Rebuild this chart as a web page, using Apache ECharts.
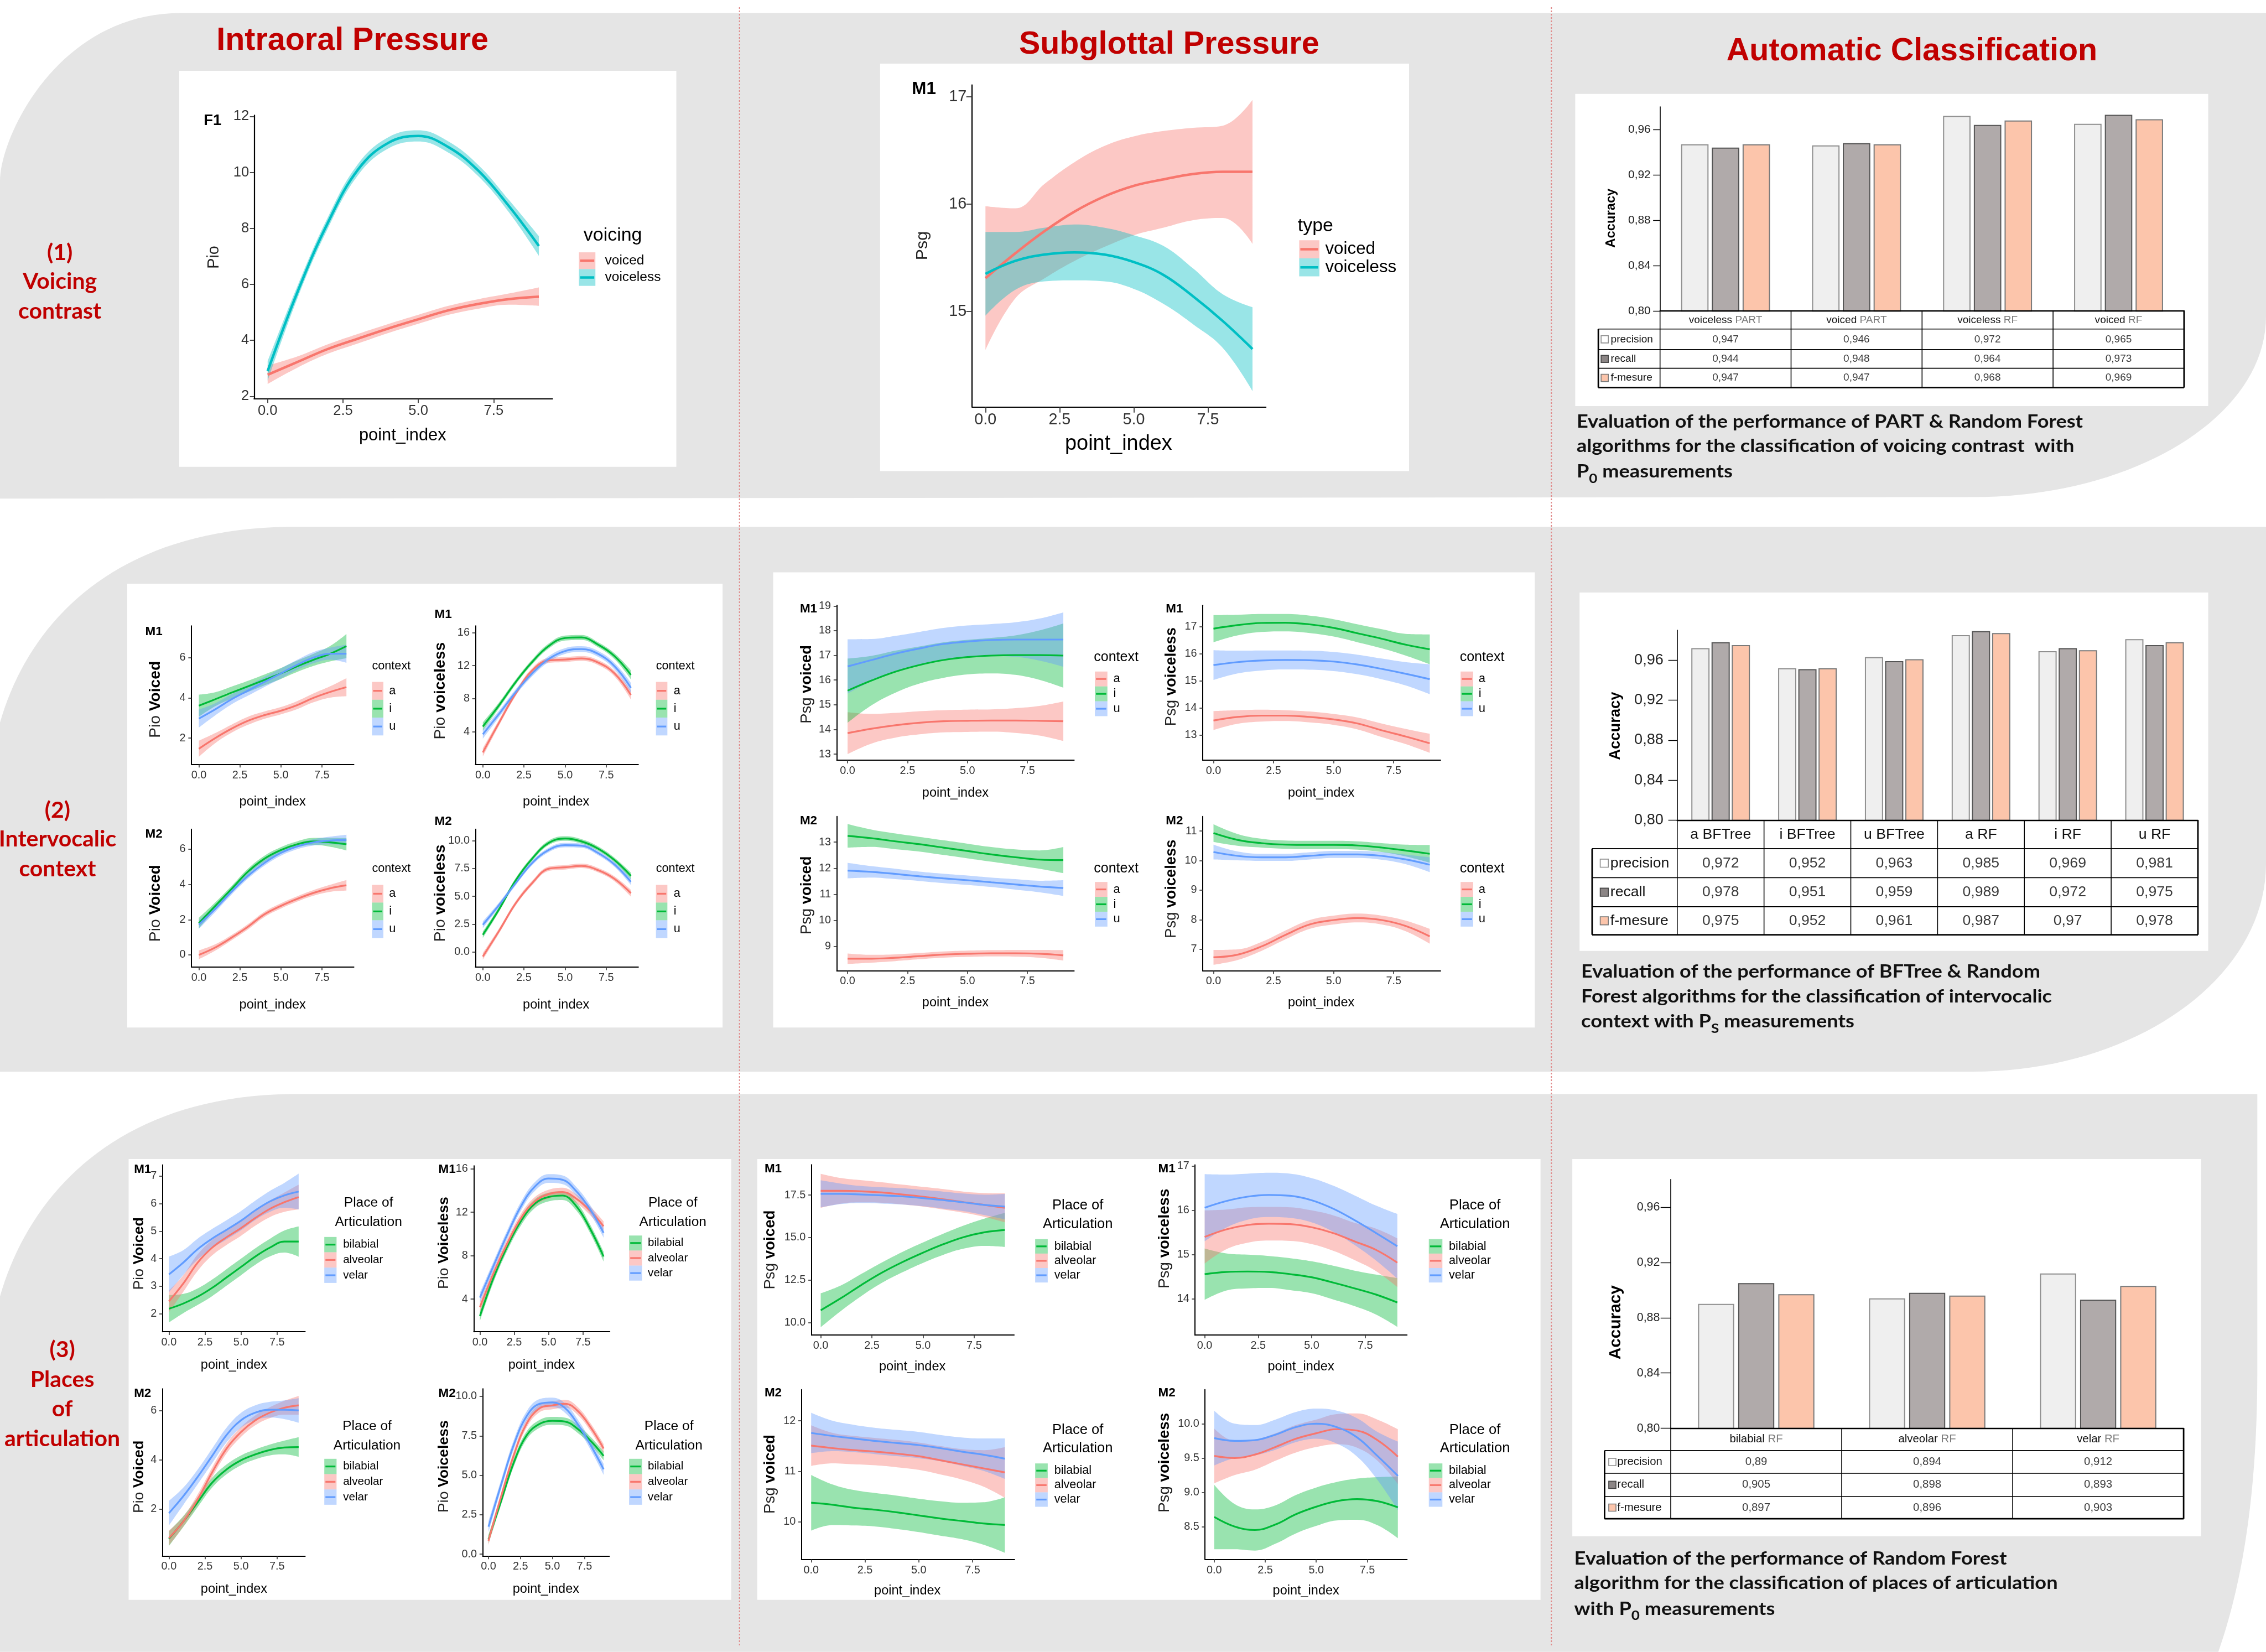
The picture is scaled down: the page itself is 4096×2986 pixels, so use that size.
<!DOCTYPE html>
<html><head><meta charset="utf-8">
<script src="https://cdn.jsdelivr.net/npm/echarts@6/dist/echarts.min.js"></script>
<style>html,body{margin:0;padding:0;background:#fff}#c{width:4096px;height:2986px}</style>
</head><body><div id="c"></div>
<script>
// ================= DATA =================
const pointIndex = [0,1,2,3,4,5,6,7,8,9];
const xTicks = [0, 2.5, 5, 7.5];
const accTicks = [0.80, 0.84, 0.88, 0.92, 0.96];

// (1) voicing contrast — intraoral pressure (F1)
const f1Voiced       = [2.77,3.23,3.69,4.06,4.42,4.75,5.07,5.30,5.47,5.56];
const f1VoicedCI     = [0.33,0.20,0.17,0.17,0.16,0.16,0.16,0.17,0.20,0.33];
const f1Voiceless    = [2.90,5.75,8.20,10.10,11.05,11.30,10.90,10.05,8.80,7.37];
const f1VoicelessCI  = [0.35,0.22,0.20,0.20,0.20,0.20,0.20,0.20,0.22,0.35];
// (1) voicing contrast — subglottal pressure (M1)
const m1Voiced       = [15.31,15.54,15.75,15.93,16.07,16.17,16.23,16.28,16.30,16.30];
const m1VoicedCI     = [0.67,0.42,0.44,0.46,0.47,0.46,0.45,0.43,0.43,0.67];
const m1Voiceless    = [15.35,15.47,15.53,15.55,15.53,15.46,15.34,15.14,14.91,14.65];
const m1VoicelessCI  = [0.39,0.27,0.25,0.26,0.25,0.25,0.27,0.26,0.25,0.39];

// (2) intervocalic context — Pio
const pioVdM1_a = [1.47,2.00,2.47,2.86,3.14,3.36,3.64,4.00,4.29,4.53];
const pioVdM1_aCI = [0.40,0.25,0.20,0.20,0.18,0.18,0.20,0.22,0.28,0.45];
const pioVdM1_i = [3.61,3.93,4.26,4.57,4.89,5.21,5.57,5.89,6.19,6.57];
const pioVdM1_iCI = [0.55,0.35,0.30,0.28,0.27,0.27,0.28,0.30,0.38,0.60];
const pioVdM1_u = [2.97,3.43,3.93,4.36,4.79,5.21,5.64,6.00,6.19,6.19];
const pioVdM1_uCI = [0.45,0.30,0.25,0.25,0.25,0.25,0.25,0.28,0.30,0.45];
const pioVlM1_a = [1.50,5.15,8.63,11.41,12.63,12.73,12.87,12.38,11.06,8.45];
const pioVlM1_aCI = [0.50,0.35,0.30,0.30,0.30,0.30,0.30,0.30,0.35,0.55];
const pioVlM1_i = [4.63,7.24,10.02,12.45,14.37,15.34,15.41,14.54,13.15,10.89];
const pioVlM1_iCI = [0.50,0.35,0.30,0.30,0.30,0.30,0.30,0.30,0.35,0.55];
const pioVlM1_u = [3.69,6.19,8.80,11.06,12.80,13.77,14.00,13.43,11.93,9.32];
const pioVlM1_uCI = [0.55,0.40,0.35,0.35,0.35,0.35,0.35,0.35,0.40,0.60];
const pioVdM2_a = [0.00,0.42,0.98,1.60,2.30,2.78,3.18,3.52,3.78,3.95];
const pioVdM2_aCI = [0.25,0.18,0.15,0.15,0.15,0.15,0.15,0.16,0.20,0.30];
const pioVdM2_i = [1.80,2.78,3.75,4.73,5.46,5.95,6.28,6.44,6.39,6.28];
const pioVdM2_iCI = [0.30,0.20,0.17,0.17,0.17,0.17,0.17,0.20,0.25,0.35];
const pioVdM2_u = [1.72,2.61,3.59,4.49,5.22,5.79,6.16,6.39,6.49,6.52];
const pioVdM2_uCI = [0.25,0.18,0.16,0.16,0.16,0.16,0.16,0.18,0.22,0.30];
const pioVlM2_a = [-0.39,1.93,4.38,6.19,7.47,7.60,7.73,7.35,6.57,5.28];
const pioVlM2_aCI = [0.30,0.22,0.20,0.20,0.20,0.20,0.20,0.20,0.22,0.30];
const pioVlM2_i = [1.55,3.87,6.44,8.38,9.79,10.18,9.92,9.28,8.25,6.83];
const pioVlM2_iCI = [0.30,0.22,0.20,0.20,0.20,0.20,0.20,0.20,0.22,0.30];
const pioVlM2_u = [2.45,4.25,6.19,7.99,9.15,9.59,9.54,8.89,7.86,6.31];
const pioVlM2_uCI = [0.30,0.22,0.20,0.20,0.20,0.20,0.20,0.20,0.22,0.30];

// (2) intervocalic context — Psg
const psgVdM1_a = [13.85,14.03,14.17,14.27,14.33,14.35,14.36,14.36,14.35,14.33];
const psgVdM1_aCI = [0.85,0.60,0.50,0.47,0.45,0.45,0.45,0.50,0.60,0.80];
const psgVdM1_i = [15.57,15.98,16.34,16.61,16.81,16.93,16.99,17.01,17.01,16.99];
const psgVdM1_iCI = [1.30,1.00,0.85,0.75,0.72,0.70,0.72,0.80,1.00,1.30];
const psgVdM1_u = [16.55,16.81,17.07,17.28,17.46,17.56,17.62,17.64,17.64,17.64];
const psgVdM1_uCI = [1.10,0.85,0.72,0.67,0.65,0.65,0.65,0.70,0.85,1.10];
const psgVlM1_a = [13.54,13.67,13.72,13.72,13.67,13.58,13.43,13.18,12.95,12.70];
const psgVlM1_aCI = [0.35,0.25,0.22,0.20,0.20,0.20,0.22,0.25,0.28,0.35];
const psgVlM1_i = [16.92,17.05,17.13,17.14,17.08,16.95,16.75,16.55,16.33,16.16];
const psgVlM1_iCI = [0.50,0.38,0.33,0.32,0.32,0.32,0.33,0.35,0.40,0.55];
const psgVlM1_u = [15.58,15.69,15.75,15.77,15.76,15.71,15.60,15.44,15.26,15.06];
const psgVlM1_uCI = [0.55,0.42,0.37,0.35,0.35,0.35,0.36,0.38,0.43,0.55];
const psgVdM2_a = [8.53,8.53,8.57,8.63,8.69,8.72,8.74,8.74,8.72,8.66];
const psgVdM2_aCI = [0.20,0.15,0.13,0.12,0.12,0.12,0.12,0.13,0.15,0.20];
const psgVdM2_i = [13.24,13.15,13.03,12.92,12.79,12.66,12.53,12.42,12.33,12.31];
const psgVdM2_iCI = [0.45,0.33,0.30,0.28,0.28,0.28,0.28,0.30,0.35,0.50];
const psgVdM2_u = [11.91,11.86,11.78,11.69,11.61,11.54,11.46,11.38,11.30,11.24];
const psgVdM2_uCI = [0.30,0.22,0.20,0.18,0.18,0.18,0.18,0.20,0.22,0.30];
const psgVlM2_a = [6.73,6.82,7.10,7.49,7.84,7.99,8.06,7.99,7.79,7.44];
const psgVlM2_aCI = [0.25,0.18,0.15,0.15,0.15,0.15,0.15,0.15,0.18,0.25];
const psgVlM2_i = [10.93,10.70,10.59,10.54,10.53,10.53,10.51,10.44,10.34,10.23];
const psgVlM2_iCI = [0.30,0.20,0.15,0.14,0.14,0.14,0.14,0.15,0.20,0.30];
const psgVlM2_u = [10.29,10.16,10.11,10.11,10.16,10.21,10.21,10.16,10.04,9.86];
const psgVlM2_uCI = [0.25,0.15,0.12,0.12,0.12,0.12,0.12,0.13,0.16,0.25];

// (3) places of articulation — Pio
const poaPioVdM1_bil = [2.18,2.37,2.62,2.94,3.32,3.70,4.08,4.40,4.62,4.62];
const poaPioVdM1_bilCI = [0.50,0.35,0.30,0.30,0.30,0.30,0.30,0.32,0.40,0.55];
const poaPioVdM1_alv = [2.45,3.10,3.86,4.40,4.78,5.11,5.48,5.81,6.05,6.24];
const poaPioVdM1_alvCI = [0.40,0.30,0.30,0.28,0.28,0.28,0.28,0.30,0.35,0.45];
const poaPioVdM1_vel = [3.43,3.86,4.35,4.73,5.05,5.38,5.76,6.08,6.30,6.44];
const poaPioVdM1_velCI = [0.65,0.45,0.38,0.35,0.35,0.35,0.35,0.38,0.45,0.65];
const poaPioVlM1_bil = [2.44,6.00,8.88,11.21,12.79,13.40,13.53,12.58,10.52,7.92];
const poaPioVlM1_bilCI = [0.45,0.40,0.40,0.40,0.40,0.40,0.40,0.40,0.40,0.45];
const poaPioVlM1_alv = [3.26,6.41,9.15,11.48,12.99,13.67,13.86,13.26,12.16,10.71];
const poaPioVlM1_alvCI = [0.45,0.40,0.40,0.40,0.40,0.40,0.40,0.40,0.40,0.45];
const poaPioVlM1_vel = [4.14,7.10,9.97,12.58,14.36,15.10,14.99,13.95,12.30,10.11];
const poaPioVlM1_velCI = [0.45,0.40,0.40,0.40,0.40,0.40,0.40,0.40,0.40,0.45];
const poaPioVdM2_bil = [0.79,1.49,2.28,3.07,3.61,3.98,4.22,4.40,4.50,4.52];
const poaPioVdM2_bilCI = [0.30,0.22,0.20,0.20,0.20,0.20,0.20,0.22,0.28,0.40];
const poaPioVdM2_alv = [0.82,1.49,2.40,3.49,4.46,5.13,5.61,5.92,6.12,6.22];
const poaPioVdM2_alvCI = [0.30,0.20,0.20,0.20,0.20,0.20,0.20,0.22,0.28,0.38];
const poaPioVdM2_vel = [1.83,2.52,3.31,4.16,5.01,5.61,5.92,6.04,6.04,6.01];
const poaPioVdM2_velCI = [0.50,0.35,0.30,0.30,0.30,0.30,0.30,0.32,0.38,0.50];
const poaPioVlM2_bil = [0.94,3.40,5.85,7.55,8.26,8.45,8.40,7.92,7.17,6.23];
const poaPioVlM2_bilCI = [0.28,0.25,0.25,0.25,0.25,0.25,0.25,0.25,0.25,0.28];
const poaPioVlM2_alv = [0.85,3.68,6.32,8.30,9.25,9.43,9.53,9.06,8.02,6.70];
const poaPioVlM2_alvCI = [0.28,0.25,0.25,0.25,0.25,0.25,0.25,0.25,0.25,0.28];
const poaPioVlM2_vel = [1.74,4.43,6.98,8.77,9.53,9.62,9.25,8.21,6.89,5.38];
const poaPioVlM2_velCI = [0.35,0.30,0.30,0.30,0.30,0.30,0.30,0.30,0.30,0.35];

// (3) places of articulation — Psg
const poaPsgVdM1_bil = [10.72,11.44,12.22,12.94,13.56,14.11,14.61,15.03,15.31,15.45];
const poaPsgVdM1_bilCI = [1.00,0.75,0.65,0.60,0.60,0.60,0.62,0.68,0.80,1.00];
const poaPsgVdM1_alv = [17.75,17.75,17.72,17.65,17.53,17.40,17.25,17.08,16.92,16.75];
const poaPsgVdM1_alvCI = [1.00,0.75,0.65,0.60,0.58,0.58,0.60,0.62,0.70,0.85];
const poaPsgVdM1_vel = [17.57,17.57,17.53,17.48,17.42,17.32,17.20,17.07,16.92,16.82];
const poaPsgVdM1_velCI = [0.80,0.60,0.50,0.48,0.48,0.48,0.50,0.52,0.60,0.75];
const poaPsgVlM1_bil = [14.56,14.61,14.62,14.61,14.56,14.49,14.37,14.24,14.10,13.92];
const poaPsgVlM1_bilCI = [0.58,0.42,0.38,0.36,0.36,0.36,0.38,0.40,0.45,0.55];
const poaPsgVlM1_alv = [15.40,15.57,15.67,15.70,15.69,15.62,15.49,15.30,15.11,14.82];
const poaPsgVlM1_alvCI = [0.60,0.45,0.40,0.38,0.38,0.38,0.40,0.42,0.48,0.55];
const poaPsgVlM1_vel = [16.06,16.21,16.31,16.35,16.33,16.23,16.04,15.78,15.49,15.19];
const poaPsgVlM1_velCI = [0.76,0.60,0.52,0.50,0.50,0.50,0.52,0.56,0.62,0.73];
const poaPsgVdM2_bil = [10.38,10.34,10.28,10.24,10.19,10.13,10.07,10.02,9.97,9.94];
const poaPsgVdM2_bilCI = [0.55,0.40,0.35,0.33,0.33,0.33,0.34,0.36,0.42,0.55];
const poaPsgVdM2_alv = [11.51,11.46,11.42,11.39,11.35,11.30,11.22,11.14,11.06,10.98];
const poaPsgVdM2_alvCI = [0.40,0.30,0.28,0.27,0.27,0.27,0.28,0.30,0.36,0.50];
const poaPsgVdM2_vel = [11.76,11.70,11.65,11.60,11.56,11.52,11.46,11.39,11.33,11.25];
const poaPsgVdM2_velCI = [0.40,0.30,0.27,0.26,0.26,0.26,0.26,0.28,0.32,0.40];
const poaPsgVlM2_bil = [8.64,8.50,8.45,8.53,8.68,8.79,8.87,8.90,8.87,8.78];
const poaPsgVlM2_bilCI = [0.47,0.33,0.30,0.28,0.28,0.28,0.28,0.30,0.35,0.45];
const poaPsgVlM2_alv = [9.53,9.50,9.55,9.66,9.78,9.86,9.92,9.90,9.76,9.52];
const poaPsgVlM2_alvCI = [0.40,0.25,0.22,0.20,0.20,0.20,0.22,0.25,0.30,0.40];
const poaPsgVlM2_vel = [9.79,9.75,9.76,9.84,9.95,10.00,9.95,9.80,9.53,9.24];
const poaPsgVlM2_velCI = [0.40,0.25,0.22,0.22,0.22,0.22,0.24,0.28,0.35,0.50];

// Automatic classification
const voicingCats = ['voiceless PART','voiced PART','voiceless RF','voiced RF'];
const voicingPrecision = [0.947,0.946,0.972,0.965];
const voicingRecall    = [0.944,0.948,0.964,0.973];
const voicingFmeasure  = [0.947,0.947,0.968,0.969];
const contextCats = ['a BFTree','i BFTree','u BFTree','a RF','i RF','u RF'];
const contextPrecision = [0.972,0.952,0.963,0.985,0.969,0.981];
const contextRecall    = [0.978,0.951,0.959,0.989,0.972,0.975];
const contextFmeasure  = [0.975,0.952,0.961,0.987,0.97,0.978];
const placeCats = ['bilabial RF','alveolar RF','velar RF'];
const placePrecision = [0.89,0.894,0.912];
const placeRecall    = [0.905,0.898,0.893];
const placeFmeasure  = [0.897,0.896,0.903];
const metricNames = ['precision','recall','f-mesure'];

// ================= LAYOUT / STYLE =================
const S = 4096/1568;
const p = v => v*S;
const SANS = "'Liberation Sans', Arial, sans-serif";
const CAL = "Lato, 'Open Sans', sans-serif";
const RED='#F8766D', GREEN='#00BA38', BLUE='#619CFF', CYAN='#00BFC4';
const DARKRED = '#c00000';
function rgba(hex,a){const n=parseInt(hex.slice(1),16);return `rgba(${n>>16},${(n>>8)&255},${n&255},${a})`;}

const grids=[], xAxes=[], yAxes=[], series=[], G=[];
let gi=0, stackN=0;

function txt(text,x,y,o={}){
  const el={type:'text',z:5,x:p(x),y:p(y),style:{text,fontSize:p(o.f||9),fontFamily:o.ff||SANS,fontWeight:o.w||'normal',fill:o.c||'#000',align:o.a||'left',verticalAlign:o.va||'middle'}};
  if(o.rot) el.rotation=o.rot;
  if(o.sx) el.scaleX=o.sx;
  if(o.rich) el.style.rich=o.rich;
  return el;
}
function line(x1,y1,x2,y2,w,c,dash){const el={type:'line',z:5,shape:{x1:p(x1),y1:p(y1),x2:p(x2),y2:p(y2)},style:{stroke:c||'#000',lineWidth:w}};if(dash)el.style.lineDash=dash;return el;}
function rect(x,y,w,h,fill,z2){return {type:'rect',z:0,z2:z2||0,shape:{x:p(x),y:p(y),width:p(w),height:p(h)},style:{fill}};}

// confidence band = stacked pair (lower bound + band width); the value (y) is put first
// in each record so that ECharts stacks along the y dimension.
function addCurve(g,mean,ci,color,lw){
  const st='ci'+(stackN++);
  const common={type:'line',xAxisIndex:g,yAxisIndex:g,symbol:'none',smooth:0.4,stack:st,stackStrategy:'all',
    encode:{x:1,y:0},silent:true,z:2,lineStyle:{width:0,opacity:0}};
  series.push(Object.assign({},common,{data:pointIndex.map((x,i)=>[mean[i]-ci[i],x])}));
  series.push(Object.assign({},common,{data:pointIndex.map((x,i)=>[2*ci[i],x]),areaStyle:{color:rgba(color,0.4),opacity:1}}));
  series.push({type:'line',xAxisIndex:g,yAxisIndex:g,symbol:'none',smooth:0.4,silent:true,z:2,data:pointIndex.map((x,i)=>[x,mean[i]]),lineStyle:{color,width:lw}});
}

const DEF={tick:7.6,title:9,tag:8.6,legT:9.3,leg:8.3,ytf:10.5,axW:2,tl:2.2,xm:3.6,ym:4,lw:3.2,tlh:13};
function linePlot(s){
  const f=Object.assign({},DEF,s.f||{});
  const kx=(s.px75-s.px0)/7.5;
  const L=s.px0-0.45*kx, R=s.px0+9.45*kx;
  const ky=(s.y2[1]-s.y1[1])/(s.y1[0]-s.y2[0]);
  const ymax=s.y1[0]+(s.y1[1]-s.T)/ky, ymin=s.y2[0]-(s.B-s.y2[1])/ky;
  grids.push({left:p(L),top:p(s.T),width:p(R-L),height:p(s.B-s.T)});
  const axLine={show:true,onZero:false,lineStyle:{color:'#000',width:f.axW}};
  const tickStyle={color:'#333',width:f.axW*0.8};
  xAxes.push({gridIndex:gi,type:'value',min:-0.45,max:9.45,axisLine:axLine,
    axisTick:{show:true,length:p(f.tl),customValues:xTicks,lineStyle:tickStyle},
    axisLabel:{show:true,customValues:xTicks,formatter:v=>v.toFixed(1),fontSize:p(f.tick),fontFamily:SANS,color:'#333',margin:p(f.xm)},
    splitLine:{show:false},z:3});
  yAxes.push({gridIndex:gi,type:'value',min:ymin,max:ymax,axisLine:axLine,
    axisTick:{show:true,length:p(f.tl),customValues:s.yticks,lineStyle:tickStyle},
    axisLabel:{show:true,customValues:s.yticks,formatter:v=>s.ydec?v.toFixed(s.ydec):String(v),fontSize:p(f.tick),fontFamily:SANS,color:'#333',margin:p(f.ym)},
    splitLine:{show:false},z:3});
  s.curves.forEach(c=>addCurve(gi,c[0],c[1],c[2],f.lw));
  G.push(txt(s.tag[0],s.tag[1],s.tag[2],{f:f.tag,w:'bold'}));
  const yt=s.yt[0].map(([t,b])=>(b?'{b|':'{n|')+t+'}').join('');
  G.push(txt(yt,s.yt[1],s.yt[2],{f:f.ytf,a:'center',rot:Math.PI/2,rich:{n:{fontSize:p(f.ytf),fontFamily:SANS,fill:'#222'},b:{fontSize:p(f.ytf),fontFamily:SANS,fontWeight:'bold',fill:'#000'}}}));
  G.push(txt('point_index',s.xt[0],s.xt[1],{f:f.title,a:'center'}));
  const l=s.leg;
  l.title.forEach((t,i)=>G.push(txt(t,l.tx,l.ty+i*f.tlh,{f:f.legT,a:l.ta||'left'})));
  l.items.forEach((it,i)=>{
    const cy=l.y0+i*l.step;
    G.push({type:'rect',z:5,shape:{x:p(l.kx),y:p(cy-l.step/2),width:p(l.kw),height:p(l.step)},style:{fill:rgba(it[1],0.4)}});
    G.push(line(l.kx+0.8,cy,l.kx+l.kw-0.8,cy,f.lw,it[1]));
    G.push(txt(it[0],l.lx,cy,{f:f.leg}));
  });
  gi++;
}

const CTX=[['a',RED],['i',GREEN],['u',BLUE]];
const POA=[['bilabial',GREEN],['alveolar',RED],['velar',BLUE]];
const POAT=['Place of','Articulation'];
const fA={tick:9.8,title:11.8,tag:10.5,legT:13,leg:9.4,ytf:11,axW:2.2,tl:2.9,xm:3.5,ym:3.5,lw:4.5};
const fB={tick:11,title:14.5,tag:12,legT:13,leg:12,ytf:11.6,axW:2.2,tl:4,xm:3.5,ym:3.8,lw:4.5};
const fD={legT:8.3,leg:8.3,ytf:10.8};
const fE={legT:9.6,leg:8.4};
const fG={legT:9.4,leg:7.9,tlh:13.4,ytf:10.2};
const fH={legT:9.8,leg:8.3,tlh:12.8,ytf:10.6};

const SPECS=[
 {px0:185.2,px75:341.6,T:79.8,B:275.9,y1:[12,80.5],y2:[2,274.2],yticks:[2,4,6,8,10,12],f:fA,
  curves:[[f1Voiced,f1VoicedCI,RED],[f1Voiceless,f1VoicelessCI,CYAN]],
  tag:['F1',141,83.6],yt:[[['Pio',0]],148,178],xt:[278.6,301.3],
  leg:{title:['voicing'],tx:403.8,ty:163,kx:400.6,kw:11.4,y0:180.4,step:11.6,lx:418.6,items:[['voiced',RED],['voiceless',CYAN]]}},
 {px0:681.9,px75:835.9,T:58.8,B:281.5,y1:[17,66.9],y2:[15,215.5],yticks:[15,16,17],f:fB,
  curves:[[m1Voiced,m1VoicedCI,RED],[m1Voiceless,m1VoicelessCI,CYAN]],
  tag:['M1',631,61.8],yt:[[['Psg',0]],638.3,170],xt:[774,307.3],
  leg:{title:['type'],tx:898,ty:156.5,kx:899,kw:14,y0:172.5,step:12.5,lx:917,items:[['voiced',RED],['voiceless',CYAN]]}},
 {px0:137.6,px75:222.7,T:433.1,B:528.9,y1:[6,455],y2:[2,510.7],yticks:[2,4,6],f:fD,
  curves:[[pioVdM1_a,pioVdM1_aCI,RED],[pioVdM1_i,pioVdM1_iCI,GREEN],[pioVdM1_u,pioVdM1_uCI,BLUE]],
  tag:['M1',100.5,437.1],yt:[[['Pio',0],[' Voiced',1]],107.6,484],xt:[188.6,555],
  leg:{title:['context'],tx:257.4,ty:461,kx:257.4,kw:7.9,y0:478,step:12.35,lx:269.2,items:CTX}},
 {px0:334.1,px75:419.5,T:433.1,B:528.9,y1:[16,437.7],y2:[4,506.3],yticks:[4,8,12,16],f:fD,
  curves:[[pioVlM1_a,pioVlM1_aCI,RED],[pioVlM1_i,pioVlM1_iCI,GREEN],[pioVlM1_u,pioVlM1_uCI,BLUE]],
  tag:['M1',300.7,425.2],yt:[[['Pio',0],[' voiceless',1]],304.7,478],xt:[384.8,555],
  leg:{title:['context'],tx:453.9,ty:461,kx:453.9,kw:7.9,y0:478,step:12.35,lx:466.2,items:CTX}},
 {px0:137.6,px75:222.7,T:573.7,B:669.1,y1:[6,587.6],y2:[0,660.7],yticks:[0,2,4,6],f:fD,
  curves:[[pioVdM2_a,pioVdM2_aCI,RED],[pioVdM2_i,pioVdM2_iCI,GREEN],[pioVdM2_u,pioVdM2_uCI,BLUE]],
  tag:['M2',100.5,577.3],yt:[[['Pio',0],[' Voiced',1]],107.6,625],xt:[188.6,695.2],
  leg:{title:['context'],tx:257.4,ty:601,kx:257.4,kw:7.9,y0:618.4,step:12.25,lx:269.2,items:CTX}},
 {px0:334.1,px75:419.5,T:573.7,B:669.1,y1:[10,581.6],y2:[0,658.8],yticks:[0,2.5,5,7.5,10],ydec:1,f:fD,
  curves:[[pioVlM2_a,pioVlM2_aCI,RED],[pioVlM2_i,pioVlM2_iCI,GREEN],[pioVlM2_u,pioVlM2_uCI,BLUE]],
  tag:['M2',300.7,568.3],yt:[[['Pio',0],[' voiceless',1]],304.7,618],xt:[384.8,695.2],
  leg:{title:['context'],tx:453.9,ty:601,kx:453.9,kw:7.9,y0:618.4,step:12.25,lx:466.2,items:CTX}},
 {px0:586.5,px75:710.9,T:418.9,B:526,y1:[19,419.3],y2:[13,521.8],yticks:[13,14,15,16,17,18,19],f:fE,
  curves:[[psgVdM1_a,psgVdM1_aCI,RED],[psgVdM1_i,psgVdM1_iCI,GREEN],[psgVdM1_u,psgVdM1_uCI,BLUE]],
  tag:['M1',553.5,421.3],yt:[[['Psg',0],[' voiced',1]],558.5,473.5],xt:[661.1,548.7],
  leg:{title:['context'],tx:756.9,ty:454.7,kx:757.6,kw:8.7,y0:469.8,step:10.3,lx:770.4,items:CTX}},
 {px0:839.7,px75:964.4,T:418.9,B:526,y1:[17,433.5],y2:[13,508.7],yticks:[13,14,15,16,17],f:fE,
  curves:[[psgVlM1_a,psgVlM1_aCI,RED],[psgVlM1_i,psgVlM1_iCI,GREEN],[psgVlM1_u,psgVlM1_uCI,BLUE]],
  tag:['M1',806.7,421.3],yt:[[['Psg',0],[' voiceless',1]],810.7,468.2],xt:[914.2,548.7],
  leg:{title:['context'],tx:1010.1,ty:454.7,kx:1010.7,kw:8.7,y0:469.8,step:10.3,lx:1023.2,items:CTX}},
 {px0:586.5,px75:710.9,T:564.9,B:671.6,y1:[13,582.7],y2:[9,654.9],yticks:[9,10,11,12,13],f:fE,
  curves:[[psgVdM2_a,psgVdM2_aCI,RED],[psgVdM2_i,psgVdM2_iCI,GREEN],[psgVdM2_u,psgVdM2_uCI,BLUE]],
  tag:['M2',553.5,567.9],yt:[[['Psg',0],[' voiced',1]],558.5,619.5],xt:[661.1,694],
  leg:{title:['context'],tx:756.9,ty:600.9,kx:757.6,kw:8.7,y0:615.4,step:10.3,lx:770.4,items:CTX}},
 {px0:839.7,px75:964.4,T:564.9,B:671.6,y1:[11,575],y2:[7,656.9],yticks:[7,8,9,10,11],f:fE,
  curves:[[psgVlM2_a,psgVlM2_aCI,RED],[psgVlM2_i,psgVlM2_iCI,GREEN],[psgVlM2_u,psgVlM2_uCI,BLUE]],
  tag:['M2',806.7,567.9],yt:[[['Psg',0],[' voiceless',1]],810.7,615],xt:[914.2,694],
  leg:{title:['context'],tx:1010.1,ty:600.9,kx:1010.7,kw:8.7,y0:615.4,step:10.3,lx:1023.2,items:CTX}},
 {px0:116.9,px75:191.7,T:806,B:921.5,y1:[7,813.8],y2:[2,909],yticks:[2,3,4,5,6,7],f:fG,
  curves:[[poaPioVdM1_bil,poaPioVdM1_bilCI,GREEN],[poaPioVdM1_alv,poaPioVdM1_alvCI,RED],[poaPioVdM1_vel,poaPioVdM1_velCI,BLUE]],
  tag:['M1',92.7,809.3],yt:[[['Pio',0],[' Voiced',1]],96.4,867.4],xt:[161.9,944.6],
  leg:{title:POAT,ta:'center',tx:255,ty:832.3,kx:224.4,kw:8.5,y0:861.2,step:10.6,lx:237.4,items:POA}},
 {px0:332.1,px75:403.4,T:806.7,B:921.5,y1:[16,808.7],y2:[4,898.9],yticks:[4,8,12,16],f:fG,
  curves:[[poaPioVlM1_bil,poaPioVlM1_bilCI,GREEN],[poaPioVlM1_alv,poaPioVlM1_alvCI,RED],[poaPioVlM1_vel,poaPioVlM1_velCI,BLUE]],
  tag:['M1',303.4,809.3],yt:[[['Pio',0],[' Voiceless',1]],307.4,860],xt:[374.7,944.6],
  leg:{title:POAT,ta:'center',tx:465.6,ty:832.3,kx:435.3,kw:9,y0:860.1,step:10.4,lx:448.3,items:POA}},
 {px0:116.9,px75:191.7,T:961,B:1076.7,y1:[6,976.1],y2:[2,1044.1],yticks:[2,4,6],f:fG,
  curves:[[poaPioVdM2_bil,poaPioVdM2_bilCI,GREEN],[poaPioVdM2_alv,poaPioVdM2_alvCI,RED],[poaPioVdM2_vel,poaPioVdM2_velCI,BLUE]],
  tag:['M2',92.7,964.2],yt:[[['Pio',0],[' Voiced',1]],96.4,1021.9],xt:[161.9,1099.6],
  leg:{title:POAT,ta:'center',tx:254,ty:986.8,kx:224.4,kw:8.5,y0:1014.7,step:10.6,lx:237.4,items:POA}},
 {px0:338,px75:404.4,T:961,B:1076.7,y1:[10,966.2],y2:[0,1075.4],yticks:[0,2.5,5,7.5,10],ydec:1,f:fG,
  curves:[[poaPioVlM2_bil,poaPioVlM2_bilCI,GREEN],[poaPioVlM2_alv,poaPioVlM2_alvCI,RED],[poaPioVlM2_vel,poaPioVlM2_velCI,BLUE]],
  tag:['M2',303.4,964.2],yt:[[['Pio',0],[' Voiceless',1]],307.4,1014.7],xt:[377.8,1099.6],
  leg:{title:POAT,ta:'center',tx:462.9,ty:986.8,kx:435.3,kw:9,y0:1014.7,step:10.6,lx:448.3,items:POA}},
 {px0:567.9,px75:674.1,T:805.9,B:923.8,y1:[17.5,826.9],y2:[10,915.1],yticks:[10,12.5,15,17.5],ydec:1,f:fH,
  curves:[[poaPsgVdM1_bil,poaPsgVdM1_bilCI,GREEN],[poaPsgVdM1_alv,poaPsgVdM1_alvCI,RED],[poaPsgVdM1_vel,poaPsgVdM1_velCI,BLUE]],
  tag:['M1',529,808.8],yt:[[['Psg',0],[' voiced',1]],533.2,864.8],xt:[631.3,945.7],
  leg:{title:POAT,ta:'center',tx:745.8,ty:834.3,kx:716.3,kw:8.7,y0:862.4,step:10,lx:729.5,items:POA}},
 {px0:833.6,px75:944.7,T:806,B:923.8,y1:[17,806.9],y2:[14,898.8],yticks:[14,15,16,17],f:fH,
  curves:[[poaPsgVlM1_bil,poaPsgVlM1_bilCI,GREEN],[poaPsgVlM1_alv,poaPsgVlM1_alvCI,RED],[poaPsgVlM1_vel,poaPsgVlM1_velCI,BLUE]],
  tag:['M1',801.4,808.8],yt:[[['Psg',0],[' voiceless',1]],805.9,857],xt:[900.2,945.7],
  leg:{title:POAT,ta:'center',tx:1020.6,ty:834.3,kx:988.7,kw:9.4,y0:862.4,step:10,lx:1002.6,items:POA}},
 {px0:561.3,px75:673,T:961.5,B:1079,y1:[12,983.1],y2:[10,1053.1],yticks:[10,11,12],f:fH,
  curves:[[poaPsgVdM2_bil,poaPsgVdM2_bilCI,GREEN],[poaPsgVdM2_alv,poaPsgVdM2_alvCI,RED],[poaPsgVdM2_vel,poaPsgVdM2_velCI,BLUE]],
  tag:['M2',529,964],yt:[[['Psg',0],[' voiced',1]],533.2,1020],xt:[627.9,1100.9],
  leg:{title:POAT,ta:'center',tx:745.8,ty:989.5,kx:716.3,kw:8.7,y0:1017.6,step:10,lx:729.5,items:POA}},
 {px0:840.2,px75:946.1,T:961.5,B:1079,y1:[10,985.1],y2:[8.5,1056.3],yticks:[8.5,9,9.5,10],ydec:1,f:fH,
  curves:[[poaPsgVlM2_bil,poaPsgVlM2_bilCI,GREEN],[poaPsgVlM2_alv,poaPsgVlM2_alvCI,RED],[poaPsgVlM2_vel,poaPsgVlM2_velCI,BLUE]],
  tag:['M2',801.4,964],yt:[[['Psg',0],[' voiceless',1]],805.9,1012.1],xt:[903.7,1100.9],
  leg:{title:POAT,ta:'center',tx:1020.6,ty:989.5,kx:988.7,kw:9.4,y0:1017.6,step:10,lx:1002.6,items:POA}}
];

const BAR_STYLES=[['#efefef','#8f8f8f'],['#b0aaaa','#555555'],['#fcc5ab','#7a7a7a']];
const SWATCH=[['#ffffff','#8f8f8f'],['#8c8686','#444444'],['#fcc5ab','#7a7a7a']];
function barPlot(b){
  grids.push({left:p(b.A),top:p(b.T),width:p(b.R-b.A),height:p(b.B-b.T)});
  xAxes.push({gridIndex:gi,type:'category',data:b.cats,boundaryGap:true,axisLine:{show:true,onZero:false,lineStyle:{color:'#000',width:2.4}},axisTick:{show:false},axisLabel:{show:false},splitLine:{show:false},z:3});
  yAxes.push({gridIndex:gi,type:'value',min:0.8,max:b.ymax,axisLine:{show:true,lineStyle:{color:'#000',width:1.6}},
    axisTick:{show:true,length:p(b.tl),customValues:accTicks,lineStyle:{color:'#000',width:1.4}},
    axisLabel:{show:true,customValues:accTicks,formatter:v=>v.toFixed(2).replace('.',','),fontSize:p(b.fy),fontFamily:SANS,color:'#222',margin:p(b.ym)},
    splitLine:{show:false},z:3});
  b.vals.forEach((v,k)=>series.push({type:'bar',xAxisIndex:gi,yAxisIndex:gi,data:v,barWidth:p(b.bw),barGap:b.gap,
    itemStyle:{color:BAR_STYLES[k][0],borderColor:BAR_STYLES[k][1],borderWidth:2},z:2}));
  G.push(txt('Accuracy',b.acc[0],b.acc[1],{f:b.acc[2],w:'bold',a:'center',rot:Math.PI/2}));
  const n=b.cats.length, cw=(b.R-b.A)/n, TB=b.rows[2];
  const IN=1.6, OUT=2.8;
  G.push(line(b.L,b.hb,b.R,b.hb,IN));
  G.push(line(b.L,b.rows[0],b.R,b.rows[0],IN));
  G.push(line(b.L,b.rows[1],b.R,b.rows[1],IN));
  G.push(line(b.L,TB,b.R,TB,OUT));
  G.push(line(b.L,b.hb,b.L,TB,OUT));
  G.push(line(b.A,b.B,b.A,TB,IN));
  for(let j=1;j<n;j++) G.push(line(b.A+j*cw,b.B,b.A+j*cw,TB,IN));
  G.push(line(b.R,b.B,b.R,TB,OUT));
  const hy=(b.B+b.hb)/2;
  b.cats.forEach((c,j)=>{
    const cx=b.A+cw*(j+0.5);
    let t;
    if(b.greyLast){const k=c.lastIndexOf(' ');t='{k|'+c.slice(0,k)+' }{g|'+c.slice(k+1)+'}';}
    else t='{k|'+c+'}';
    G.push(txt(t,cx,hy,{f:b.ft,a:'center',rich:{k:{fontSize:p(b.ft),fontFamily:SANS,fill:'#111'},g:{fontSize:p(b.ft),fontFamily:SANS,fill:'#7a7a7a'}}}));
  });
  const tops=[b.hb,b.rows[0],b.rows[1]];
  metricNames.forEach((m,k)=>{
    const cy=(tops[k]+b.rows[k])/2;
    G.push({type:'rect',z:5,shape:{x:p(b.L+b.sx),y:p(cy-b.sw/2),width:p(b.sw),height:p(b.sw)},style:{fill:SWATCH[k][0],stroke:SWATCH[k][1],lineWidth:1.6}});
    G.push(txt(m,b.L+b.tx,cy,{f:b.ft,c:'#111'}));
    b.vals[k].forEach((v,j)=>G.push(txt(String(v).replace('.',','),b.A+cw*(j+0.5),cy,{f:b.ft,a:'center',c:'#3a3a3a'})));
  });
  gi++;
}
const BARS=[
 {A:1148.7,R:1511.3,L:1106,T:73.9,B:215.2,ymax:0.98,hb:227.7,rows:[241.9,254.8,268.2],cats:voicingCats,
  vals:[voicingPrecision,voicingRecall,voicingFmeasure],bw:19,gap:'12%',fy:8,ym:6.5,tl:4.8,ft:7.3,sw:5,sx:1.9,tx:8.6,greyLast:true,acc:[1115,150.9,9.1]},
 {A:1160.6,R:1520.9,L:1101.7,T:436.0,B:567.6,ymax:0.99,hb:587.2,rows:[607.3,627.4,646.8],cats:contextCats,
  vals:[contextPrecision,contextRecall,contextFmeasure],bw:12.6,gap:'11%',fy:10.4,ym:9.5,tl:6.2,ft:10.2,sw:5.6,sx:5.6,tx:12.6,greyLast:false,acc:[1118,502.3,10.5]},
 {A:1156.1,R:1511,L:1110.3,T:816.1,B:988.3,ymax:0.98,hb:1003.7,rows:[1019.4,1035.4,1050.9],cats:placeCats,
  vals:[placePrecision,placeRecall,placeFmeasure],bw:25,gap:'11%',fy:8.2,ym:7.5,tl:7,ft:7.8,sw:5,sx:2.9,tx:8.8,greyLast:true,acc:[1118.2,915,11.4]}
];

// ---------- background decoration (polygons sampled from bezier outlines) ----------
const BG='#e5e5e5';
function bez(P0,P1,P2,P3,n){const out=[];for(let i=0;i<=n;i++){const t=i/n,u=1-t;out.push([u*u*u*P0[0]+3*u*u*t*P1[0]+3*u*t*t*P2[0]+t*t*t*P3[0],u*u*u*P0[1]+3*u*u*t*P1[1]+3*u*t*t*P2[1]+t*t*t*P3[1]]);}return out;}
function band(pts){return {type:'polygon',z:0,z2:0,shape:{points:pts.map(q=>[p(q[0]),p(q[1])])},style:{fill:BG}};}
G.push(band([...bez([0,125],[0,95],[40,9],[125,9],40),[1568,9],...bez([1568,219],[1568,288],[1477,344],[1365,344],40),[0,345]]));
G.push(band([...bez([0,500],[20,430],[80,366],[200,364.5],40),[1568,364.5],...bez([1568,597.6],[1568,677],[1477,741.5],[1365,741.5],40),[0,741.5]]));
G.push(band([...bez([0,897],[20,827],[80,759],[200,757],40),[1562,757],...bez([1562,948],[1562,1040],[1550,1100],[1535,1143],40),[0,1143]]));
[511.7,1073.5].forEach(x=>{const l=line(x,5,x,1139,2,'#e08a8a',[3,3]);l.z=0;l.z2=2;G.push(l);});
[[124,49,468,323],[609,44,975,326],[1090,65,1528,281],
 [88,404,500,711],[535,396,1062,711],[1093,410,1528,658],
 [89,802,506,1107],[524,802,1066,1107],[1088,802,1523,1063]].forEach(r=>G.push(rect(r[0],r[1],r[2]-r[0],r[3]-r[1],'#ffffff',1)));

G.push(txt('Intraoral Pressure',243.9,28.3,{f:22,w:'bold',a:'center',c:DARKRED}));
G.push(txt('Subglottal Pressure',809,31,{f:22,w:'bold',a:'center',c:DARKRED}));
G.push(txt('Automatic Classification',1323,35.5,{f:22,w:'bold',a:'center',c:DARKRED}));
[[['(1)','Voicing','contrast'],41.4,[174.7,194.8,215.4]],
 [['(2)','Intervocalic','context'],39.8,[560.6,580.8,601.4]],
 [['(3)','Places','of','articulation'],43.1,[933.9,954.5,975,995.7]]].forEach(([lines,x,ys])=>
  lines.forEach((t,i)=>G.push(txt(t,x,ys[i],{f:15.7,w:'bold',a:'center',c:DARKRED,ff:CAL}))));

const mctx=document.createElement('canvas').getContext('2d');
function caption(lines,x,ys,target,fs){
  mctx.font=`bold ${p(fs)}px Lato`;
  const plain=lines[0].replace(/\{[a-z]\||\}/g,'');
  const w=mctx.measureText(plain).width||1;
  const sx=p(target)/w;
  const rich={n:{fontSize:p(fs),fontFamily:CAL,fontWeight:'bold',fill:'#111',padding:[0,0,p(3),0]},
              s:{fontSize:p(fs*0.72),fontFamily:CAL,fontWeight:'bold',fill:'#111',verticalAlign:'bottom'}};
  lines.forEach((t,i)=>G.push(txt(t,x,ys[i],{f:fs,w:'bold',ff:CAL,c:'#111',sx,rich})));
}
caption(['{n|Evaluation of the performance of PART & Random Forest}','{n|algorithms for the classification of voicing contrast  with}','{n|P}{s|0}{n| measurements}'],1091,[293.2,310.1,327.9],350.3,12.6);
caption(['{n|Evaluation of the performance of BFTree & Random}','{n|Forest algorithms for the classification of intervocalic}','{n|context with P}{s|S}{n| measurements}'],1094.1,[673.9,691,708.5],317.7,12.6);
caption(['{n|Evaluation of the performance of Random Forest}','{n|algorithm for the classification of places of articulation}','{n|with P}{s|0}{n| measurements}'],1089.3,[1079.9,1097,1114.7],299.3,12.6);

SPECS.forEach(linePlot);
BARS.forEach(barPlot);

const chart=echarts.init(document.getElementById('c'),null,{renderer:'canvas',width:4096,height:2986});
chart.setOption({animation:false,backgroundColor:'#ffffff',textStyle:{fontFamily:SANS},
  grid:grids,xAxis:xAxes,yAxis:yAxes,series,graphic:{elements:G}});
</script></body></html>
